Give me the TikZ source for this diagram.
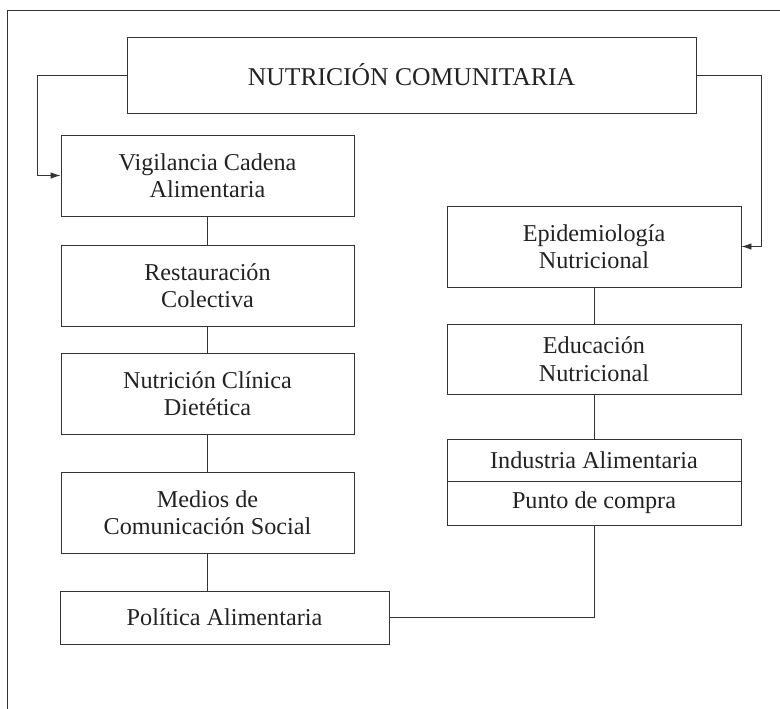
\documentclass[tikz,border=0pt]{standalone}
\usepackage{fontspec}
\setmainfont{Liberation Serif}
\usetikzlibrary{arrows.meta}
\definecolor{ln}{HTML}{333333}
\definecolor{tx}{HTML}{222222}
\begin{document}
\begin{tikzpicture}[x=1pt,y=-1pt,
  box/.style={draw=ln,line width=0.9pt,inner sep=0pt,align=center,text=tx,
    font=\fontsize{24.2}{27.5}\selectfont},
  conn/.style={draw=ln,line width=0.9pt},
  arr/.style={conn,-{Latex[length=10pt,width=6.5pt]}}]
\useasboundingbox (0,0) rectangle (780,709);
\draw[conn] (780,10) -- (7.5,10) -- (7.5,709);
\node[box,minimum width=569pt,minimum height=76pt,font=\fontsize{25.6}{29}\selectfont] (top) at (411.5,75) {NUTRICIÓN COMUNITARIA};
\node[box,minimum width=293pt,minimum height=81pt] (vig) at (207.5,175.5) {Vigilancia Cadena\\Alimentaria};
\node[box,minimum width=293pt,minimum height=81pt] (res) at (207.5,285.5) {Restauración\\Colectiva};
\node[box,minimum width=293pt,minimum height=81pt] (nut) at (207.5,393.5) {Nutrición Clínica\\Dietética};
\node[box,minimum width=293pt,minimum height=81pt] (med) at (207.5,512.5) {Medios de\\Comunicación Social};
\node[box,minimum width=329pt,minimum height=53pt] (pol) at (224.5,617.5) {Política Alimentaria};
\node[box,minimum width=294pt,minimum height=81pt] (epi) at (594,246.5) {Epidemiología\\Nutricional};
\node[box,minimum width=294pt,minimum height=70pt] (edu) at (594,359) {Educación\\Nutricional};
\node[box,minimum width=294pt,minimum height=42pt] (ind) at (594,460) {Industria Alimentaria};
\node[box,minimum width=294pt,minimum height=44pt] (pun) at (594,503) {Punto de compra};
\coordinate (lc) at (37,75);
\coordinate (rc) at (761,75);
\draw[arr] (top.west) -- (lc) |- (vig.west);
\draw[arr] (top.east) -- (rc) |- (epi.east);
\draw[conn] (vig) -- (res);
\draw[conn] (res) -- (nut);
\draw[conn] (nut) -- (med);
\draw[conn] (med.south) -- (med.south |- pol.north);
\draw[conn] (epi) -- (edu);
\draw[conn] (edu) -- (ind);
\draw[conn] (pol.east) -| (pun.south);
\end{tikzpicture}
\end{document}
